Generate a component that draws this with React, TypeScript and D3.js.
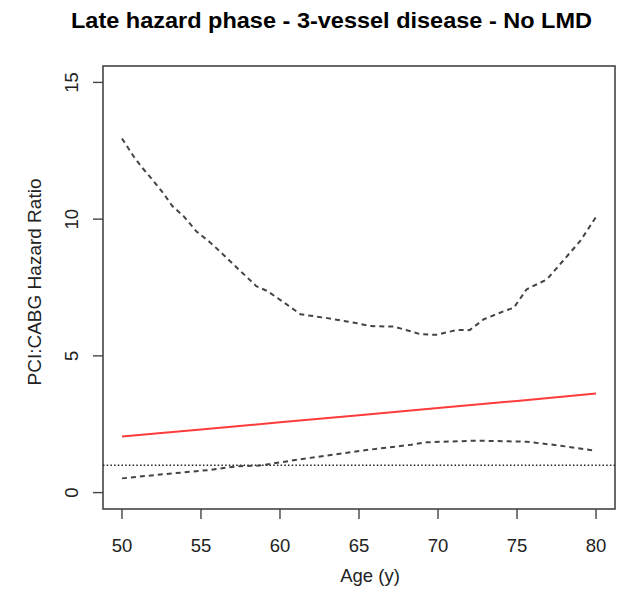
import React from "react";
import * as d3 from "d3";

const titleText = "Late hazard phase - 3-vessel disease - No LMD";
const xLabel = "Age (y)";
const yLabel = "PCI:CABG Hazard Ratio";
const xTicks = [50, 55, 60, 65, 70, 75, 80];
const yTicks = [0, 5, 10, 15];
const refLine = 1;

const hrAge = [50, 55, 60, 65, 70, 75, 80];
const hrValue = [2.05, 2.31, 2.57, 2.83, 3.09, 3.35, 3.62];

const upperAge = [50, 50.8, 51.3, 52, 52.6, 53.2, 53.9, 54.7, 55.6, 56.4, 57.5, 58.5, 59.2, 60.4, 61.3, 63, 64, 64.9, 65.7, 67.2, 68.2, 68.9, 69.9, 71.2, 72, 72.9, 74.1, 74.8, 75.6, 76.9, 77.9, 79, 80];
const upperValue = [12.95, 12.24, 11.87, 11.39, 10.96, 10.47, 10.11, 9.56, 9.14, 8.71, 8.1, 7.55, 7.37, 6.89, 6.52, 6.38, 6.28, 6.19, 6.09, 6.07, 5.91, 5.79, 5.77, 5.95, 5.94, 6.34, 6.62, 6.76, 7.43, 7.8, 8.47, 9.2, 10.08];

const lowerAge = [50, 52.4, 55.6, 57.25, 58.7, 61.9, 65.1, 68.3, 69.3, 72.5, 75.6, 77.7, 80];
const lowerValue = [0.52, 0.66, 0.83, 0.96, 0.99, 1.27, 1.53, 1.75, 1.84, 1.9, 1.86, 1.72, 1.53];

export default function App() {
  const W = 622, H = 590;
  const left = 103, right = 615, top = 66, bottom = 509;
  const x = d3.scaleLinear().domain([48.8, 81.2]).range([left, right]);
  const y = d3.scaleLinear().domain([-0.6, 15.6]).range([bottom, top]);
  const line = d3.line<[number, number]>().x(d => x(d[0])).y(d => y(d[1]));
  const hr = line(hrAge.map((a, i) => [a, hrValue[i]]) as [number, number][]) || "";
  const up = line(upperAge.map((a, i) => [a, upperValue[i]]) as [number, number][]) || "";
  const lo = line(lowerAge.map((a, i) => [a, lowerValue[i]]) as [number, number][]) || "";
  const font = "Liberation Sans, Arial, Helvetica, sans-serif";
  return (
    <svg width={W} height={H} style={{ position: "absolute", left: 0, top: 0, background: "#fff" }} fontFamily={font}>
      <text x={331.5} y={27.7} textAnchor="middle" fontSize={21.5} fontWeight="bold" fill="#000" textLength={521} lengthAdjust="spacingAndGlyphs">{titleText}</text>
      <rect x={left} y={top} width={right - left} height={bottom - top} fill="none" stroke="#444" strokeWidth={1.6} />
      <line x1={left} x2={right} y1={y(refLine)} y2={y(refLine)} stroke="#222" strokeWidth={1.4} strokeDasharray="1.5,2.2" />
      <path d={up} fill="none" stroke="#444" strokeWidth={2} strokeDasharray="5,4" />
      <path d={lo} fill="none" stroke="#444" strokeWidth={2} strokeDasharray="5,4" />
      <path d={hr} fill="none" stroke="#ff3b3b" strokeWidth={2} />
      {xTicks.map(t => (
        <g key={"x" + t}>
          <line x1={x(t)} x2={x(t)} y1={bottom} y2={bottom + 10} stroke="#444" strokeWidth={1.4} />
          <text x={x(t)} y={551.5} textAnchor="middle" fontSize={18.5} fill="#222">{t}</text>
        </g>
      ))}
      {yTicks.map(t => (
        <g key={"y" + t}>
          <line x1={left - 10} x2={left} y1={y(t)} y2={y(t)} stroke="#444" strokeWidth={1.4} />
          <text transform={`translate(77.5,${y(t)}) rotate(-90)`} textAnchor="middle" fontSize={18.5} fill="#222">{t}</text>
        </g>
      ))}
      <text x={370} y={582} textAnchor="middle" fontSize={18.5} fill="#222">{xLabel}</text>
      <text transform={`translate(41,282) rotate(-90)`} textAnchor="middle" fontSize={19} fill="#222">{yLabel}</text>
    </svg>
  );
}
